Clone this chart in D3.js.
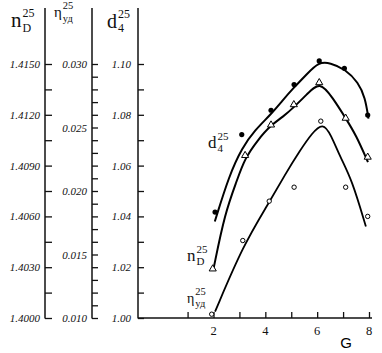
<!DOCTYPE html>
<html>
<head>
<meta charset="utf-8">
<script src="https://cdn.jsdelivr.net/npm/d3@7"></script>
<style>
  body { margin: 0; background: #fff; }
  svg { display: block; }
  .head { font-family: "Liberation Serif", serif; fill: #111; }
</style>
</head>
<body>
<div id="chart"></div>
<script>
// measured points (G, value)
var gD4 = [2.06, 3.09, 4.22, 5.11, 6.08, 7.05, 7.95];
var d4 = [1.0417, 1.0722, 1.0818, 1.0919, 1.1012, 1.0983, 1.0799];

var gND = [1.97, 3.22, 4.22, 5.10, 6.08, 7.10, 7.95];
var nD = [1.4029, 1.4096, 1.4114, 1.4126, 1.4139, 1.4118, 1.4095];

var gEta = [1.93, 3.13, 4.15, 5.11, 6.14, 7.10, 7.95];
var eta = [0.0103, 0.0161, 0.0192, 0.0203, 0.0255, 0.0203, 0.0180];

// drawn curves
var curveGD4 = [2.05, 2.6, 3.1, 3.6, 4.2, 4.65, 5.08, 5.6, 6.06, 6.5, 7.08, 7.59, 7.85, 7.98];
var curveD4 = [1.038, 1.056, 1.067, 1.074, 1.080, 1.0855, 1.0905, 1.096, 1.1008, 1.1005, 1.098, 1.0927, 1.0868, 1.0785];

var curveGND = [2.0, 2.44, 2.9, 3.2, 3.7, 4.22, 4.7, 5.1, 5.6, 6.1, 6.6, 7.1, 7.5, 7.96];
var curveND = [1.4029, 1.4062, 1.4081, 1.4094, 1.4105, 1.4114, 1.4119, 1.41245, 1.4132, 1.4140, 1.4130, 1.4118, 1.4108, 1.4092];

var curveGEta = [2.06, 3.15, 4.12, 4.76, 5.34, 5.8, 6.22, 6.54, 6.88, 7.34, 7.88];
var curveEta = [0.0105, 0.01575, 0.0190, 0.0213, 0.0232, 0.02455, 0.0254, 0.0244, 0.0227, 0.0209, 0.0172];

// axis ticks
var ndTicks = d3.range(0, 11).map(i => 1.4 + i * 0.0015);
var etaTicks = d3.range(0, 21).map(i => 0.010 + i * 0.001);
var d4Ticks = d3.range(0, 11).map(i => 1.00 + i * 0.01);
var gTicks = [1, 2, 3, 4, 5, 6, 7, 8];
var gLabels = [2, 4, 6, 8];

var width = 382, height = 353;
var yTop = 64, yBot = 318;

var svg = d3.select("#chart").append("svg")
    .attr("width", width)
    .attr("height", height);

var x = d3.scaleLinear().domain([2, 8]).range([213.5, 369]);
var yN = d3.scaleLinear().domain([1.4000, 1.4150]).range([yBot, yTop]);
var yE = d3.scaleLinear().domain([0.010, 0.030]).range([yBot, yTop]);
var yD = d3.scaleLinear().domain([1.00, 1.10]).range([yBot, yTop]);

function vAxis(scale, ticks, every, fmt, xpos, len, pad) {
    var ax = d3.axisLeft(scale)
        .tickValues(ticks)
        .tickSizeInner(-len)
        .tickSizeOuter(0)
        .tickPadding(pad)
        .tickFormat((d, i) => i % every == 0 ? d3.format(fmt)(d) : "");
    var g = svg.append("g").attr("transform", `translate(${xpos},0)`).call(ax);
    g.select(".domain").remove();
    g.selectAll(".tick line").attr("stroke", "#111").attr("stroke-width", 1.3);
    g.selectAll(".tick text")
        .style("font-family", "'Liberation Serif', serif")
        .style("font-style", "italic")
        .style("font-size", "11px")
        .attr("fill", "#111");
    g.append("line")
        .attr("x1", 0).attr("x2", 0)
        .attr("y1", 8).attr("y2", yBot + 0.5)
        .attr("stroke", "#111").attr("stroke-width", 1.5);
    return g;
}

vAxis(yN, ndTicks, 2, ".4f", 45, 7, 5);
vAxis(yE, etaTicks, 5, ".3f", 92, 6, 5);
vAxis(yD, d4Ticks, 2, ".2f", 138, 6, 7);

// G axis
var gx = svg.append("g").attr("transform", `translate(0,${yBot})`)
    .call(d3.axisBottom(x).tickValues(gTicks).tickSizeInner(-6).tickSizeOuter(0).tickFormat(""));
gx.select(".domain").remove();
gx.selectAll(".tick line").attr("stroke", "#111").attr("stroke-width", 1.3);
gx.append("line").attr("x1", 138).attr("x2", 372).attr("y1", 0).attr("y2", 0)
    .attr("stroke", "#111").attr("stroke-width", 1.5);

svg.append("g").selectAll("text")
    .data(gLabels)
    .join("text")
    .attr("class", "head")
    .attr("x", d => x(d))
    .attr("y", 335)
    .attr("text-anchor", "middle")
    .style("font-size", "12.5px")
    .text(d => d);

svg.append("text")
    .attr("x", 346).attr("y", 348)
    .attr("text-anchor", "middle")
    .style("font-family", "Liberation Sans, sans-serif")
    .style("font-size", "15px")
    .text("G");

// headers with super/subscripts
function label(xp, yp, main, sup, sub, big, small, up, down) {
    var g = svg.append("g").attr("class", "head");
    var t = g.append("text").attr("x", xp).attr("y", yp).style("font-size", big + "px").text(main);
    var w = t.node().getComputedTextLength();
    g.append("text").attr("x", xp + w + 1).attr("y", yp - big * (up || 0.5))
        .style("font-size", small + "px").text(sup);
    g.append("text").attr("x", xp + w + 1).attr("y", yp + big * (down || 0.22))
        .style("font-size", small + "px").text(sub);
}

label(11, 27, "n", "25", "D", 21, 12);
label(54, 17, "η", "25", "уд", 15, 10.5, 0.55, 0.3);
label(107, 28, "d", "25", "4", 20, 12);

label(208, 148, "d", "25", "4", 17, 11);
label(187, 261, "n", "25", "D", 17, 11);
label(187, 303, "η", "25", "уд", 14, 10.5, 0.6, 0.32);

// curves
var line = d3.line().curve(d3.curveBasis);

function drawCurve(gs, vs, y, w) {
    svg.append("path")
        .datum(gs.map((g, i) => [x(g), y(vs[i])]))
        .attr("d", line)
        .attr("fill", "none")
        .attr("stroke", "#000")
        .attr("stroke-width", w);
}
drawCurve(curveGD4, curveD4, yD, 2);
drawCurve(curveGND, curveND, yN, 2);
drawCurve(curveGEta, curveEta, yE, 1.8);

// markers
svg.append("g").selectAll("circle")
    .data(gD4)
    .join("circle")
    .attr("cx", d => x(d))
    .attr("cy", (d, i) => yD(d4[i]))
    .attr("r", 2.6)
    .attr("fill", "#000");

var tri = d3.symbol().type(d3.symbolTriangle).size(22);
svg.append("g").selectAll("path")
    .data(gND)
    .join("path")
    .attr("d", tri)
    .attr("transform", (d, i) => `translate(${x(d)},${yN(nD[i])})`)
    .attr("fill", "#fff")
    .attr("stroke", "#000")
    .attr("stroke-width", 1);

svg.append("g").selectAll("circle")
    .data(gEta)
    .join("circle")
    .attr("cx", d => x(d))
    .attr("cy", (d, i) => yE(eta[i]))
    .attr("r", 2.2)
    .attr("fill", "#fff")
    .attr("stroke", "#000")
    .attr("stroke-width", 1);
</script>
</body>
</html>
